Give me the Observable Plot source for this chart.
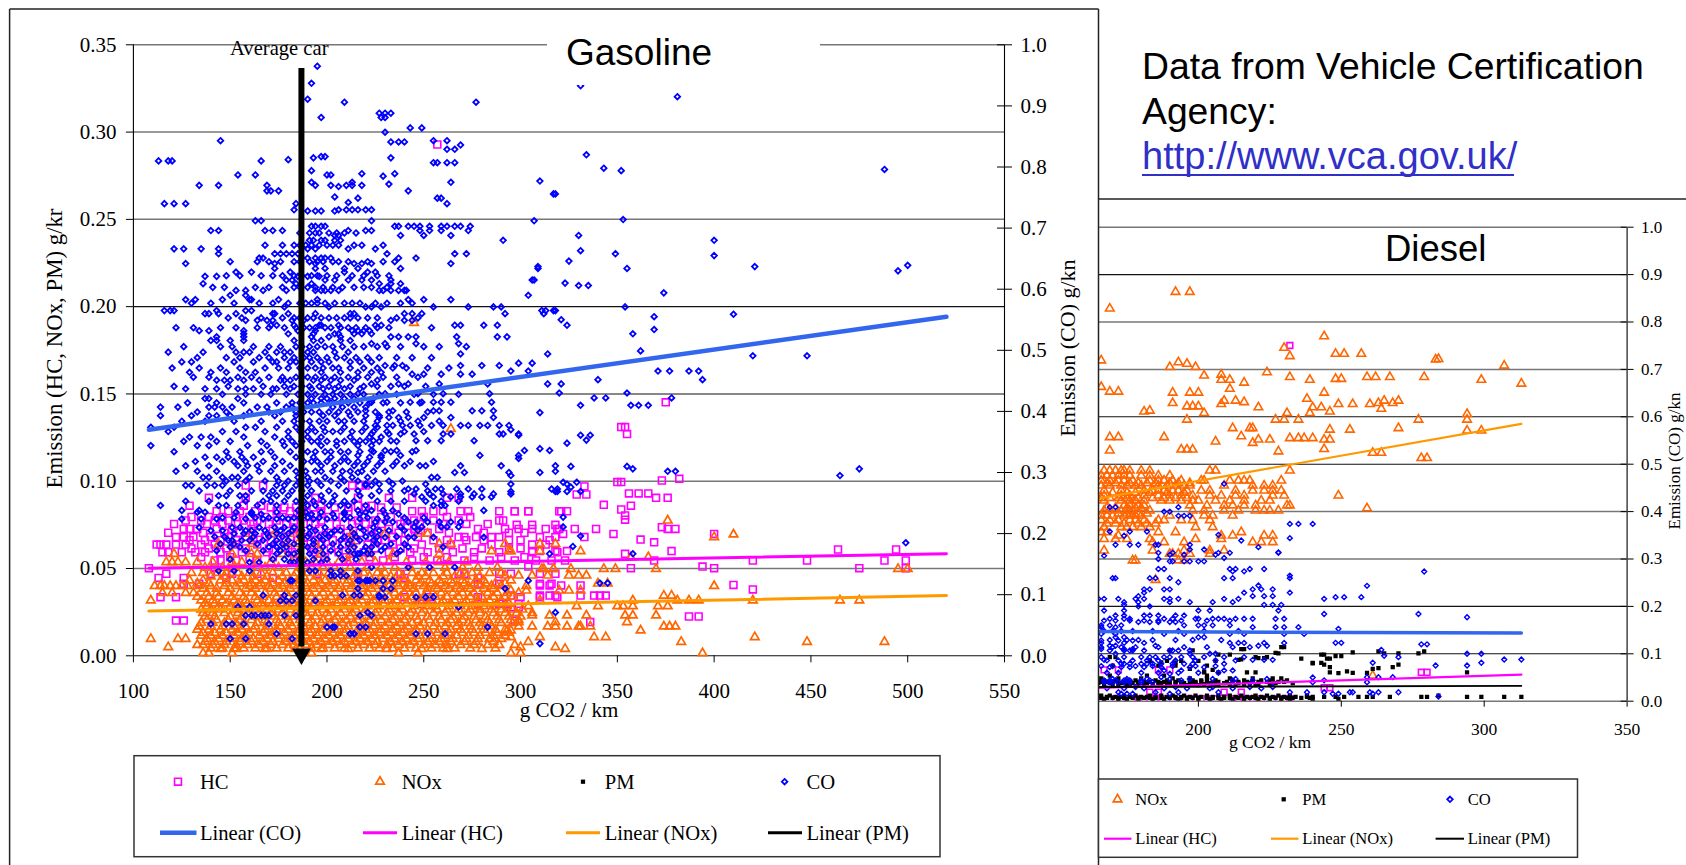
<!DOCTYPE html>
<html><head><meta charset="utf-8">
<script src="https://cdn.jsdelivr.net/npm/d3@7"></script>
<script src="https://cdn.jsdelivr.net/npm/@observablehq/plot@0.6"></script>
<style>html,body{margin:0;padding:0;background:#fff}#page{position:relative;width:1686px;height:865px;overflow:hidden;background:#fff}#page>svg{position:absolute;top:0}</style>
</head><body><div id="page"></div>
<script>
// ---- Gasoline: each row is [level, [g CO2/km ...]]
const gasCO=[[.965,[195]],[.937,[192]],[.933,[331]],[.915,[381]],[.911,[190]],[.906,[209,277]],[.888,[227,230,233]],[.881,[197,228,230]],[.864,[243,249]],[.857,[230]],[.843,[145,255,262]],[.841,[233,237,240]],[.836,[269]],[.829,[262,266]],[.82,[334]],[.817,[197,199]],[.815,[193,233]],[.812,[180]],[.81,[113,118,120,166]],[.807,[255,257,262,266]],[.798,[343]],[.796,[488]],[.794,[192,352]],[.789,[218,235]],[.787,[154,163,200,202]],[.785,[229]],[.777,[310]],[.775,[192,213,264]],[.772,[232]],[.77,[134,144,169,194,202,210,213,218]],[.768,[206]],[.761,[169,171,175,242]],[.756,[317,318]],[.751,[204]],[.749,[216,257,259]],[.742,[211]],[.74,[116,121,127,184,262]],[.73,[183,206,210,213,216,220,223]],[.728,[190,194,197,204]],[.714,[353]],[.712,[166,163,223,307]],[.703,[192,194,197,199,235,237,242,245,248,253,259,262,266,269,274]],[.696,[140,144,168,172,177,211,220,223,248,253,259,273]],[.688,[204,206,238,250,264,330]],[.68,[191,193,197,199,204,207,291,400]],[.666,[121,126,135,144,190,194,211,225]],[.663,[331]],[.658,[144,173,176,179,182,185,231,272,266,349]],[.655,[400]],[.651,[165,167,187,190,194,197,199,202,237,246]],[.646,[325]],[.642,[127,173,194,214,218,223,264]],[.639,[500]],[.637,[309,421]],[.634,[173,194,199,209,216,238,309,355]],[.63,[495]],[.628,[181,161,153,209,221,225]],[.621,[137,143,185,190,196]],[.615,[179,182,199,204,211,218,223,233,306,307]],[.61,[323]],[.609,[136,184,192,227,233,238]],[.606,[330,335]],[.598,[153,158,179,167,194,197,199,202,206,227,229,233,237,240,241]],[.594,[374]],[.59,[150,158,304]],[.583,[127,132,146,160,161,175,195,242,250,264]],[.571,[178,220,223,228,201,255,273,286,290,354]],[.565,[116,119,121,143,158,161,311,313,317,318]],[.559,[410]],[.56,[137,139,144,153,172,173,180,194,212,214,240,244,249,292,312]],[.555,[369]],[.55,[321]],[.549,[158,164,169,172,182,188,244,240,233]],[.541,[171,174,183,196,197,206,225,228,266,269,281,288,324]],[.534,[369]],[.532,[134,139,157,185,194,213,216,219,222]],[.527,[157,180,193,204,206,214,218,223,358]],[.522,[143,157,192,201,207,233,237,242,246,267,288,293]],
[.516,[140,143,150,157,183,193,197,207,212]],[.511,[223,230,246,268]],[.499,[362]],[.497,[118,136,153,157,160,168,174,178,181,190,193,204,211]],[.494,[269,314]],[.491,[420,448]],[.481,[125,130,152,162,172,174,181,184,192,197,201,212,217,223]],[.479,[299,306]],[.475,[230,235,239,269,280,289]],[.466,[295,304,371,377,387,392]],[.464,[129,140,148,158,163,197,207,216,223,228]],[.461,[244,250,259,269,275]],[.452,[340,394]],[.451,[143,147,150,157,165,176,178,181,193,197,202,207,214,226]],[.445,[223,237,242,258,283,314,321]],[.437,[127,137,143,154,158,162,172,174,181,192,198,204,209,217]],[.43,[320,355]],[.429,[216,230,247,260,284]],[.422,[338,344,378]],[.421,[137,139,154,192,197,200,204,209,214,224]],[.415,[223,231,243,249,255,259,264,285]],[.41,[331,357,361,366]],[.407,[114,123,139,142,146,151,164,169,179,182,203,208,214,220]],[.401,[220,234,255,258,275,280,286]],[.398,[310]],[.393,[114,130,139,143,150,157,173,184,198,204,212,220,227]],[.39,[227,232,237,242,250,264,286]],[.377,[225,231,234,239,243,248,254,260,269,273,279,283,289,294]],[.374,[109,121,158,163,174,184,192,198,209,220,226]],[.37,[295]],[.363,[223,232,238,245,260,264,289,291,299]],[.361,[299,331,336]],[.358,[129,135,140,157,173,180,190,197,212,222,228]],[.353,[334]],[.352,[217,224,233,246,252,259,276]],[.348,[324]],[.344,[109,133,139,159,169,178,184,197,205,216,223]],[.339,[310]],[.336,[223,230,236,246,302,315]],[.328,[216,228,238,279,299]],[.325,[137,143,149,156,162,173,184,193,202,209,222,228]],[.323,[299]],[.311,[127,139,154,159,164,173,181,197,204,214,219,226,234,240,248,251,269,290,318]],[.31,[326,355]],[.306,[358,475]],[.302,[318,376,380]],[.3,[216,266,271,294,310]],[.295,[465,295]],[.292,[136,139,146,151,154,160,174,185,190,199,207,213,221,254,257]],[.284,[329,322]],[.281,[220,227,234,251,295,324]],[.279,[127,130,138,142,146,154,174,178,184,190,197,206,220,223]],[.276,[326]],[.273,[242,246,256,259,267,273,280,316,319]],[.269,[295,318,319,324,331]],[.265,[245,253,260,269,276,286,295]],[.262,[144,148,155,158,170,174,180,190,197,204,217,223]],[.26,[249,255,264,269,275,280,285]],[.253,[251,259,268]],[.246,[114,144,148,154,164,174,190,194,201,207,211,220,255,259,261]],[.238,[125,134,185,216,223,229,234,281]],[.235,[133,137,153,161,174,189,197,209,220]],[.232,[161,166,192,203,209,217,230,237]],[.227,[322]],[.224,[125,135,143,158,167,174,180,193,200,209,217,226]],[.219,[225,230,234,242,246,252,258,264,269]],[.211,[322,238,245,249,259,262,268]],[.21,[134,151,155,165,173,178,183,191,199,212,217,224]],[.2,[152,157,163,169,174,180,191,199,202,214,223]],[.196,[331]],[.194,[230,242,245,255,281]],[.189,[149,151,156,160,167,174,180,193,198,207,212,217,224]],[.185,[499]],[.179,[327]],[.178,[150,155,170,174,179,190,198,207,214,220,223,230,242,260]],[.167,[174,180,183,191,198,206,214,217,221,358,315,216,223,236]],[.153,[160,165,181,183,190,197]],[.145,[223,242,253,266]],[.139,[144,152,160,191,194,202,207,216]],[.131,[202,204,207,210]],[.123,[181,182,217,220,222,216,221,225,229,234,304]],[.119,[341,345]],[.11,[216,229,233,292]],[.099,[167,178,184,208,214,217,227]],[.096,[227,230,246,251,255]],[.09,[176,179,182,194]],[.08,[154,160,268]],[.071,[221,318]],[.066,[158,161,163,166,168,170,178,184,217,223]],[.052,[140,148,151,157,170]],[.047,[200,203,204,217,283,220]],[.036,[174,212,214,212,214,246,252,261]],[.028,[150,158,182]],[.02,[310]]];
const gasCOExtra=[[.692,[186,191,194,196,201,205,209,215]],[.672,[168,177,183,186,189,192,196,200,203,206,214,218,229]],[.645,[150,164,170,176,183,186,191,195,198,203,206,211,221,229,235]],[.622,[148,155,166,172,177,183,187,192,195,200,205,213,219,226,232]],[.603,[141,147,163,170,177,183,186,190,194,198,203,208,214,219,223,231]],[.577,[130,140,152,165,172,180,186,189,192,195,199,204,209,213,217,225,231,238,244]],[.553,[149,156,166,177,183,186,190,193,197,201,205,209,212,216,221,226,236,247]],[.537,[122,131,145,153,164,170,178,184,188,191,194,199,202,207,211,215,220,226,232,254]],[.506,[126,145,151,162,170,176,184,187,191,195,199,203,208,214,219,226,231,238,250,258,272]],[.488,[133,148,155,165,170,178,183,188,191,195,200,205,209,215,221,227,236,244,254]],[.471,[120,134,145,155,168,175,180,186,190,194,198,203,206,212,219,226,234,241,252,263]],[.456,[131,139,154,161,170,177,184,187,190,194,199,204,211,216,221,229,236,247]],[.441,[121,149,167,178,183,187,191,196,201,206,212,219,226,233,240,251]],[.428,[146,158,166,171,179,185,190,194,199,203,207,212,219,227,236,245,255,268]],[.414,[128,143,157,174,182,186,190,193,197,202,207,211,217,222,229,238,248]],[.399,[133,148,160,170,176,184,188,192,196,201,206,211,216,225,232,241,252]],[.384,[125,137,152,166,177,183,187,191,196,200,206,209,214,219,226,238,247,258]],[.367,[118,146,153,168,180,186,190,194,199,203,207,213,218,224,231,240,250]],[.351,[126,143,150,166,177,182,187,192,195,200,205,209,214,220,227,236]],[.334,[121,148,155,166,171,181,187,190,194,199,202,207,211,217,224,233,244]],[.318,[132,146,152,158,167,177,188,192,195,200,207,211,216,221,228,236,243,255]],[.302,[122,133,143,157,165,171,178,184,189,194,197,203,208,212,218,224,230]],[.286,[148,158,168,175,180,186,191,195,202,209,216,225,232,239]],[.27,[134,150,161,167,172,177,182,187,192,201,210,216,227,233,240,252]],[.253,[127,139,158,167,171,178,184,188,193,198,203,209,214,226,233,240]],[.226,[146,152,163,170,177,183,186,190,196,204,212,221,231,240,250]],[.205,[140,146,158,161,168,176,182,187,194,204,207,219,227,232,240,247]],[.195,[142,147,162,170,177,186,190,196,201,209,215,220,226,236]],[.183,[145,152,164,172,177,183,187,193,203,211,226,233,240]],[.172,[143,158,167,176,186,194,202,211,219,228,238]],[.158,[150,172,178,186,193,200,208,215]]];
const gasHC=[[.2929,[257]],[.1452,[375]],[.131,[352,354]],[.127,[355]],[.1014,[382]],[.1004,[373]],[.0995,[350,352]],[.0975,[213,217,220,158,167]],[.097,[333]],[.0924,[329,334]],[.093,[356,361,366]],[.0905,[139,158,194,216,232,244,262,268,370,376]],[.0865,[343]],[.086,[129,157,166,189,197,216,223,357]],[.0838,[352]],[.0828,[297,304,321,324,143,149,155,163,174,181,187,197,211,244,249,255,260,269,273,289,297,304,320]],[.0804,[354]],[.078,[354]],[.0775,[127,135,142,149,157,164,174,183,197,216,225,240,245,255,268,289,291]],[.075,[298,306,318]],[.0737,[373]],[.0727,[126,129,133,143,151,161,172,183,196,207,223,232,245,258,278,292,299,306,313,319,320,328,339,376,380]],[.0698,[348,322,400]],[.068,[122,126,131,140,149,158,168,181,190,199,212,223,234,247,268,271,277,285,289,310,318,333]],[.0666,[362]],[.065,[369]],[.0637,[112,114,117,122,127,135,142,153,164,175,188,197,208,221,234,249,264,285,306,313]],[.06,[306,310,318,324,378]],[.0593,[115,118,125,132,137,145,156,169,182,193,206,219,232,243,252,265,276,289,306,319]],[.0584,[354]],[.0546,[142,145,153,164,183,195,212,229,244,257,271,284,297,308,316,323,369,420,448,488,499]],[.0609,[464,494]],[.0511,[304,394]],[.0502,[108,142,151,357,400,475,499]],[.047,[117,140,151,164,195,216,238,268,271,289,295,310,318]],[.0446,[113,126,148,172,240,278]],[.0412,[126,134,278,289,310,316]],[.0406,[410]],[.0403,[310,315,321,331]],[.038,[420]],[.0345,[295,310,315,318,331,338,341,344]],[.0336,[114,122,240,253,278,300,310,319]],[.0298,[249,278,289,293,299]],[.0278,[295,299]],[.0225,[387,392]],[.0202,[122,126,297]],[.0193,[336]]];
const gasHCExtra=[[.085,[171,178,184,193,204,211,220,228,236]],[.0795,[130,139,146,153,160,168,177,186,191,201,208,219,228,233,250,262,274]],[.0755,[121,138,146,154,162,170,179,188,194,205,213,220,228,238,248,260,272,283]],[.0705,[118,136,147,155,165,176,186,192,202,210,217,226,237,242,252,263,281,294,302]],[.0662,[129,137,145,153,162,171,178,185,194,203,215,226,230,240,255,262,272,281,294,300,315]],[.0615,[130,139,148,158,170,180,192,202,213,225,238,245,258,270,280,294,300]],[.0565,[135,150,160,172,186,199,210,222,235,250,262,276,290,302]]];
const gasNOx=[[.1907,[245]],[.13,[264]],[.0775,[376]],[.0699,[160,173,183,213,230,248,252]],[.0695,[410]],[.068,[400]],[.0641,[144,151,161,179,185,194,213,258,264,292,318,310]],[.06,[295,331,285,294,310]],[.0584,[121,151,161,164,177,185,197,212,222,234,258]],[.0565,[357,366]],[.0537,[117,120,123,127,133,141,151,156,164,171,182,189,194,200,206,211,218,225,232,241,251,258,263,272]],[.0498,[343,349,370,311,317,326,495,500,312,317]],[.0475,[130,136,143,148,154,160,166,172,179,184,190,196,201,208,215,219,226,230,237,244,249,255,262,269,275,284,290]],[.046,[292,299,306,314,325,330,334]],[.0432,[129,136,145,151,157,163,168,175,181,186,193,199,204,211,217,223,229,234,240,246,253,258,264,270,277,281,295]],[.0414,[340,345]],[.04,[111,114,116,119,122,125,128,134,140,147,153,160,165,170,177,183,189,195,201,207,213,219,225,232,237,243,250,256,261,267,273,279,285,290,303,400]],[.0374,[295,303,320,325,331]],[.036,[115,120,127,131,138,143,149,155,161,168,173,179,186,191,198,204,209,216,221,228,235,240,246,252,259,265,270,276,283,288,293,299]],[.0345,[374,378]],[.0317,[109,135,141,146,152,158,164,170,176,182,188,194,200,206,212,218,224,230,236,242,248,254,260,266,272,278,284,290,310,358,381,387,392,420,475,465]],[.0284,[138,144,150,156,161,167,173,179,185,190,197,203,209,214,221,227,233,238,245,251,256,263,269,275,281,287,293,304,340,350,353,358,371,376,329]],[.0245,[136,141,147,154,159,165,171,177,184,189,195,200,207,213,219,225,231,237,243,249,255,261,267,273,279,286,292,298,306]],[.0231,[306,315,324,334,354,358,370]],[.0205,[138,143,149,155,161,168,174,180,186,192,198,204,210,216,222,228,234,240,247,253,259,264,270,277,283,289,295,299]],[.0193,[299,318,355]],[.0168,[134,140,146,152,158,163,170,176,182,188,194,200,206,211,218,224,230,236,242,248,255,261,267,274,280,285,299,306,314,318,324,330,331,336,374,377,380]],[.0145,[293,362,295]],[.0132,[136,142,148,154,160,167,173,178,185,191,196,203,209,215,221,227,233,239,245,251,257,263,270,276,282,288,294]],[.0107,[295,310,338,344,421]],[.0097,[109,123,127,138,144,150,156,162,169,175,181,187,193,199,205,211,217,223,229,235,241,247,253,259,265,272,278,284,290]],[.008,[304,383,448,488]],[.0062,[133,136,141,147,153,159,165,171,177,183,189,195,201,207,213,219,225,231,237,243,250,256,262,269,276,283,289,297]],[.005,[118,300,318]],[.004,[323,145,153,168,184,197,211,231,249,262,280]],[.0015,[136,139,151,192,237,247,295,300,394]]];
const gasNOxExtra=[[.0505,[137,146,152,161,168,175,186,192,198,204,212,221,228,235,243,253,261,270,278,288]],[.0455,[140,147,156,162,169,177,183,188,195,202,209,214,222,228,233,239,247,251,260,266,272,279]],[.0415,[133,139,148,155,161,166,172,178,184,190,197,203,210,215,221,227,236,242,248,254,259,265,271,276,282,287,292]],[.0385,[136,143,150,158,163,171,175,181,187,193,199,206,212,218,223,230,234,241,245,252,257,263,269,274,281,286]],[.0338,[133,139,144,151,157,163,167,174,180,185,192,196,202,208,214,220,226,232,238,244,250,256,262,268,274,280,286,292,296]],[.03,[137,142,148,154,159,166,172,177,183,189,193,199,205,211,216,223,229,234,241,247,252,259,264,271,277,282,288,294]],[.0265,[135,140,145,152,157,163,169,175,181,187,192,198,202,209,215,220,226,232,239,244,250,257,262,268,274,279,285,290,296,301]],[.0225,[137,142,150,156,162,167,173,179,183,190,194,201,205,212,217,224,230,235,241,246,252,258,265,271,276,282,288,294,300]],[.0188,[135,141,147,153,157,164,169,175,181,187,191,197,202,208,214,220,225,232,238,244,250,256,262,268,273,279,284,290,296]],[.015,[133,139,145,151,156,162,168,174,180,186,192,198,204,210,216,222,228,234,240,246,252,258,264,269,275,281,287,292]],[.0115,[135,140,146,152,158,165,171,176,183,189,195,201,207,213,219,225,231,237,243,248,254,261,267,273,279,286,292]],[.0081,[137,142,148,155,161,167,172,179,185,191,197,203,209,215,221,226,233,239,245,252,258,264,271,277,286]],[.0042,[140,146,152,157,163,169,174,180,186,192,198,204,209,216,222,227,234,240,246,254,260,266,274,287]]];
const gasTrendX=[108,520],gasCOTrend=[.37,.555],gasHCTrend=[.0502,.0585],gasNOxTrend=[.0256,.0345];
const gasLeftTicks=[0,.05,.1,.15,.2,.25,.3,.35],gasGridGrey=[.35,.3,.25,.1,.05],gasGridDark=[.2,.15,0];
const gasRightTicks=[0,.1,.2,.3,.4,.5,.6,.7,.8,.9,1],gasXTicks=[100,150,200,250,300,350,400,450,500,550];
const avgCar=[186.8];
// ---- Diesel (read on the CO axis)
const dieNOx=[[.8636,[192,197]],[.8285,[169]],[.77,[244]],[.7455,[230]],[.733,[248,251,257]],[.728,[232]],[.722,[284]],[.721,[283]],[.719,[166]],[.715,[193]],[.712,[196]],[.708,[307]],[.705,[190,199]],[.694,[224]],[.689,[208]],[.687,[202]],[.684,[232,259,262,267,279]],[.68,[248,250]],[.678,[208,211,239,299]],[.672,[216]],[.67,[313]],[.663,[166]],[.659,[211]],[.653,[169,172]],[.651,[191,197,200,244]],[.638,[238]],[.634,[209,213,265,270]],[.631,[216]],[.629,[191,263,268]],[.627,[208,249,254,260]],[.622,[196,198,200]],[.62,[221,240,243]],[.617,[264]],[.613,[183]],[.611,[181,246]],[.608,[202,231,239]],[.606,[294]],[.594,[196,227,230,235,277,294]],[.576,[212,218,219,270]],[.573,[246,253]],[.571,[294,299]],[.559,[215]],[.557,[169,172,188]],[.555,[232,235,237,240]],[.552,[221,225,244,246]],[.548,[206]],[.545,[219]],[.532,[244]],[.531,[194,196,198]],[.529,[169]],[.527,[228]],[.524,[261,264]],[.513,[278,280]],[.4867,[167,169,171,173,174,176,180,183,204,206,232]],[.476,[166,168,170,172,174,176,180,183,186,190]],[.4656,[166,169,172,174,177,183,186,188,191,194,201,202,211,214,216,218,229]],[.455,[166,169,173,175,178,180,186,189,192,195,197,209,219,223,226]],[.4445,[167,173,181,184,186,188,191,193,196,201,204,213,219,223,226,229]],[.434,[167,173,176,181,186,190,194,198,204,208,213,216,226,230,249]],[.4234,[167,173,176,178,181,187,190,194,198,200,206,211,216,222,225]],[.413,[174,176,179,181,197,203,209,212,216,220,231,232]],[.407,[259]],[.4023,[167,169,173,176,177,183,198,202,209,214,220,223,225,228]],[.3918,[166,168,170,174,176,178,180,190,202,205,212]],[.382,[166,169,172,176,178,181,186,188,194,198,204]],[.3672,[167,173,175,177,180,183,199,205]],[.3566,[166,168,186,192,215]],[.3496,[172,208,212,223,226]],[.342,[167,171,175,183,199,208]],[.3355,[184,188,195,219,222,226]],[.318,[167,184,204,209,195]],[.311,[190,191,193,197,204]],[.297,[177,178,193,195]],[.256,[185]],[.054,[261]]];
const dieNOxExtra=[[.46,[168,171,176,179,182,185,190,193,197]],[.44,[170,175,178,183,189,195]],[.429,[166,169,172,175,179,184,188,192,196]],[.408,[168,171,175,178,180]],[.396,[172,175,179,182]],[.375,[168,171,174,179,182,185]]];
const dieCO=[[.4586,[209]],[.4094,[169,171,193]],[.4,[188,190]],[.391,[193,195,197]],[.374,[232,235,240]],[.358,[169,176,182]],[.351,[207]],[.349,[174]],[.344,[232]],[.339,[215]],[.33,[171,176,185,186,197,179]],[.325,[221]],[.32,[197,202]],[.314,[228]],[.313,[186,191,207,211,228]],[.309,[190,195,206]],[.307,[167]],[.302,[209]],[.3,[186]],[.295,[190,191,195,197,200,202]],[.279,[186,188,211,213,218,223]],[.2736,[279]],[.274,[212,216]],[.265,[232]],[.2596,[170,171,183,185,190,209,212,232]],[.251,[193]],[.2434,[259]],[.244,[221]],[.236,[181,183,188,190,219,222,226]],[.229,[181,216,232]],[.2216,[179,219,223,226]],[.2195,[248,251,257]],[.216,[165,167,172,178,181,188,190,193,209,214,244]],[.209,[174,179,190,197,205,212]],[.2033,[174,223,226,229]],[.2,[179,183]],[.1914,[167,174,200,204,228]],[.184,[277,244]],[.181,[171,174,181,183,186,192,195]],[.177,[294]],[.174,[169,174,176,188,191,199,200,205,207,209,213,216,219,227,230]],[.167,[179,183,186,190,192]],[.16,[166,169,173,195,200,202,205,211]],[.1562,[166,171,219,227,230,235]],[.1527,[249]],[.142,[166,171,188,195,211,216,230,237]],[.135,[171,174,200,202]],[.1281,[166,172,177]],[.1231,[248,250]],[.123,[166,174,181,211,214,216,223,230]],[.12,[278,280]],[.117,[169,171,185,221,224]],[.11,[166,174,177]],[.1084,[264]],[.107,[169,174,176,177,181,190,191,193,197]],[.1,[171,197,204,206,294,299]],[.096,[265]],[.093,[166,174,180,183,185,188,190,194,198,202,209,216]],[.0929,[270]],[.088,[307,313]],[.0873,[167,219,223,226]],[.081,[261,299]],[.079,[173,174,176,180,182,184,187,191,195,198,209]],[.0753,[283,294]],[.0718,[169,173,176,181,187,197,202]],[.065,[188,194,209,212]],[.0578,[190]],[.0507,[187,259,263,268]],[.05,[240]],[.044,[167,169,171,174,176,180,183,194,212,219,244]],[.04,[167,169,170,172,174,176,180,184,240,259]],[.03,[178,192,205,218,226]],[.019,[172,185,193,207,232,238,244,253,254,260,263,270]],[.0156,[173,175,177,190,247,249,261]],[.0099,[284]]];
const dieCOExtra=[[.17,[167,171,176,181,186,194,203,211]],[.148,[167,170,173,177,184,193,202,214]],[.129,[169,175,179,184,192,198,208]],[.114,[166,170,173,178,186,195,203,212,218]],[.086,[168,172,177,182,186,192,199,206,213]],[.074,[166,170,178,184,191,199,206]],[.06,[168,172,180,186,193,200,207]],[.047,[170,175,182,190,197,205,213,224]],[.027,[168,174,181,188,196,204,212,222]]];
const diePM=[[.114,[229,230]],[.11,[215,216]],[.107,[190,198]],[.105,[263,279]],[.103,[254]],[.102,[227]],[.101,[265,270,277,228]],[.098,[207,211,243,244]],[.095,[248,250]],[.093,[169,171,220,224]],[.091,[221,223]],[.09,[236,245,246]],[.088,[215]],[.087,[214]],[.082,[187,192]],[.081,[240,243]],[.08,[240]],[.077,[244,270]],[.072,[246,268]],[.07,[263]],[.068,[197,261]],[.066,[205]],[.063,[202,252]],[.061,[202,207,246,294,217,220]],[.06,[254,259]],[.059,[249]],[.048,[166,172,180,191,197,203,211,219,226,229]],[.044,[167,171,175,178,185,189,193,198,201,206,212,216,222,225,231]],[.038,[165,169,173,177,182,187,192,195,199,204,209,214,218,227,233]],[.034,[170,176,181,186,190,196,200,207,213,220]],[.012,[166,169,174,178,183,187,191,195,199,203,207,211,215,220,224,228,232,238,284]],[.009,[165,168,171,173,176,180,182,185,189,192,194,197,201,205,209,213,217,219,222,226,230,234,238,240,244,248,251,256,259,261,267,278,280,294,299,307,313]],[.005,[167,172,175,179,184,188,193,196,200,204,208,212,216,221,225,229,232,240,249]]];
const diePMExtra=[[.085,[183,189,194,200,206]],[.075,[170,186,192,203]],[.054,[169,182,188,203]],[.041,[166,168,170,172,174,176,179,181,183,186,188,190,192,194,197,199,201,203,205,207,210,212,214,217,219,221,224,226,228,230]],[.036,[167,172,175,179,184,189,194,198,202,206,211,216,221,225]],[.007,[166,168,170,172,174,177,179,181,183,185,187,190,192,194,196,198,200,203,205,207,209,211,214,216,218,220,223,225,227,229,231,233,236,239]]];
const dieHC=[[.7504,[232]],[.066,[167,172,186,190]],[.061,[278,280]],[.0285,[244,246]],[.019,[183,186,209,215]],[.005,[171,173,179,183,185,187,191,195,199,203,206,212,214,217,219,222,228,232]]];
const dieTrendX=[165.4,313],dieCOTrend=[.147,.1437],dieHCTrend=[.028,.056],dieNOxTrend=[.428,.585],diePMTrend=[.03,.0325];
const dieYTicks=[0,.1,.2,.3,.4,.5,.6,.7,.8,.9,1],dieGridGrey=[1,.8,.7,.4,.3,0],dieGridDark=[.9,.6,.5,.2,.1],dieXTicks=[200,250,300,350];

const colors={HC:"#ff00ff",NOx:"#ff6600",PM:"#000",CO:"#0000ff",lCO:"#3366ee",lHC:"#ff00ff",lNOx:"#ff9900",lPM:"#000"};
const serif="'Liberation Serif',serif",sans="'Liberation Sans',sans-serif",coK=.35;
const pts=r=>r.flatMap(([y,xs])=>xs.map(x=>({x,y})));
const line=(xs,ys)=>xs.map((x,i)=>({x,y:ys[i]}));
const mHC={symbol:"square2",r:4.4,stroke:colors.HC,strokeWidth:1.6,fill:"none"};
const mNOx={symbol:"triangle2",r:4.1,stroke:colors.NOx,strokeWidth:1.7,fill:"none"};
const mCO={symbol:"diamond2",r:2.5,stroke:colors.CO,strokeWidth:1.8,fill:"none"};
const page=document.getElementById("page");

const gas=Plot.plot({width:1098,height:865,marginLeft:132.9,marginRight:94,marginTop:44.3,marginBottom:209.7,
 style:{background:"transparent",fontFamily:serif,fontSize:"21px",color:"#000"},
 x:{domain:[100,550],label:null},y:{domain:[0,.35],label:null},
 marks:[
  Plot.ruleY(gasGridGrey,{stroke:"#777",strokeWidth:1.5}),
  Plot.ruleY(gasGridDark,{stroke:"#111",strokeWidth:1.1}),
  Plot.ruleX([100,550],{stroke:"#000",strokeWidth:1.1}),
  Plot.ruleY(gasRightTicks.map(d=>d*coK),{x1:546.4,x2:550,stroke:"#000"}),
  Plot.axisY(gasLeftTicks,{anchor:"left",tickSize:7,tickPadding:10,tickFormat:d3.format(".2f"),label:null,fontSize:21}),
  Plot.axisY(gasRightTicks.map(d=>d*coK),{anchor:"right",tickSize:7,tickPadding:9,tickFormat:d=>(d/coK).toFixed(1),label:null,fontSize:21}),
  Plot.axisX(gasXTicks,{tickSize:7,tickPadding:20,tickFormat:d3.format("d"),label:null,fontSize:21}),
  Plot.dot(pts(gasHC.concat(gasHCExtra)),{x:"x",y:"y",...mHC}),
  Plot.dot(pts(gasNOx.concat(gasNOxExtra)),{x:"x",y:"y",...mNOx}),
  Plot.dot(pts(gasCO.concat(gasCOExtra)),{x:"x",y:d=>d.y*coK,...mCO}),
  Plot.line(line(gasTrendX,gasHCTrend),{x:"x",y:"y",stroke:colors.lHC,strokeWidth:3}),
  Plot.line(line(gasTrendX,gasNOxTrend),{x:"x",y:"y",stroke:colors.lNOx,strokeWidth:3}),
  Plot.line(line(gasTrendX,gasCOTrend),{x:"x",y:d=>d.y*coK,stroke:colors.lCO,strokeWidth:4.5}),
  Plot.ruleX(avgCar,{y1:.3364,y2:.005,stroke:"#000",strokeWidth:6}),
  Plot.dot(avgCar,{x:d=>d,y:()=>.001,symbol:"triangle",r:7,rotate:180,fill:"#000"})
 ]});
gas.style.left="0px";page.appendChild(gas);

const die=Plot.plot({width:587,height:865,marginLeft:0,marginRight:59.4,marginTop:226.7,marginBottom:164.3,
 style:{background:"transparent",fontFamily:serif,fontSize:"17px",color:"#000"},
 x:{domain:[165.4,350],label:null},y:{domain:[0,1],label:null},
 marks:[
  Plot.ruleY(dieGridGrey,{stroke:"#777",strokeWidth:1.5}),
  Plot.ruleY(dieGridDark,{stroke:"#111",strokeWidth:1.1}),
  Plot.ruleX([350],{stroke:"#000",strokeWidth:1.1}),
  Plot.ruleY(dieYTicks,{x1:347.9,x2:350,stroke:"#000"}),
  Plot.axisY(dieYTicks,{anchor:"right",tickSize:6,tickPadding:8,tickFormat:d3.format(".1f"),label:null,fontSize:17}),
  Plot.axisX(dieXTicks,{tickSize:6,tickPadding:15,tickFormat:d3.format("d"),label:null,fontSize:17.5}),
  Plot.dot(pts(dieHC),{x:"x",y:"y",...mHC,r:3.7,clip:true}),
  Plot.dot(pts(dieNOx.concat(dieNOxExtra)),{x:"x",y:"y",...mNOx,strokeWidth:1.6,clip:true}),
  Plot.dot(pts(diePM.concat(diePMExtra)),{x:"x",y:"y",symbol:"square",r:2.4,fill:"#000",clip:true}),
  Plot.dot(pts(dieCO.concat(dieCOExtra)),{x:"x",y:"y",...mCO,r:2.2,strokeWidth:1.4,clip:true}),
  Plot.line(line(dieTrendX,dieHCTrend),{x:"x",y:"y",stroke:colors.lHC,strokeWidth:2.2}),
  Plot.line(line(dieTrendX,dieNOxTrend),{x:"x",y:"y",stroke:colors.lNOx,strokeWidth:2.2}),
  Plot.line(line(dieTrendX,diePMTrend),{x:"x",y:"y",stroke:colors.lPM,strokeWidth:1.8}),
  Plot.line(line(dieTrendX,dieCOTrend),{x:"x",y:"y",stroke:colors.lCO,strokeWidth:3.5})
 ]});
die.style.left="1099px";page.appendChild(die);

// ---- Frames, titles, legends: overlay
const ov=d3.select(page).append("svg").attr("width",1686).attr("height",865).style("left","0px").style("pointer-events","none");
const lineEl=(x1,y1,x2,y2,c="#222",w=1.5)=>ov.append("line").attr("x1",x1).attr("y1",y1).attr("x2",x2).attr("y2",y2).attr("stroke",c).attr("stroke-width",w);
const txt=(s,x,y,o={})=>ov.append("text").text(s).attr("x",x).attr("y",y).attr("font-family",o.f||serif).attr("font-size",o.s||21).attr("fill",o.c||"#000").attr("text-anchor",o.a||"start").attr("transform",o.r?`rotate(-90 ${x} ${y})`:null);
lineEl(9.6,9,1098.5,9);lineEl(9.6,9,9.6,865);lineEl(1098.5,9,1098.5,865);lineEl(1098.5,199,1686,199);
ov.append("rect").attr("x",547).attr("y",38).attr("width",273).attr("height",47).attr("fill","#fff");
txt("Gasoline",566,65,{f:sans,s:37});
txt("Diesel",1385,261,{f:sans,s:36.5});
txt("Average car",230,55,{s:20.6});
txt("g CO2 / km",569,717,{a:"middle"});
txt("g CO2 / km",1270,748,{a:"middle",s:17.5});
txt("Emission (HC, NOx, PM) g/kr",62,348.5,{a:"middle",r:1,s:22.8});
txt("Emission (CO) g/kn",1075,348,{a:"middle",r:1,s:22});
txt("Emission (CO) g/kn",1680,461,{a:"middle",r:1,s:17});
txt("Data from Vehicle Certification",1142,79,{f:sans,s:37.3});
txt("Agency:",1142,124,{f:sans,s:37.3});
txt("http://www.vca.gov.uk/",1142,169,{f:sans,s:38,c:"#3030c8"});
lineEl(1142,175,1514,175,"#3030c8",2.2);
const sym=(name,r)=>d3.symbol(d3[{square2:"symbolSquare2",triangle2:"symbolTriangle2",diamond2:"symbolDiamond2",square:"symbolSquare"}[name]],Math.PI*r*r)();
const swatch=(k,x,y)=>{const m={HC:mHC,NOx:mNOx,CO:mCO}[k];
 const p=ov.append("path").attr("transform",`translate(${x},${y})`);
 if(m)p.attr("d",sym(m.symbol,m.r)).attr("fill","none").attr("stroke",m.stroke).attr("stroke-width",m.strokeWidth);
 else p.attr("d",sym("square",2.4)).attr("fill","#000");};
function legend(box,rows,s,dy){
 ov.append("rect").attr("x",box[0]).attr("y",box[1]).attr("width",box[2]-box[0]).attr("height",box[3]-box[1]).attr("fill","#fff").attr("stroke","#333").attr("stroke-width",1.5);
 rows.forEach(d=>{
  if(d.sym){swatch(d.sym,d.x,d.y);}
  else{lineEl(d.x1,d.y,d.x2,d.y,colors[d.c],d.w);}
  txt(d.t,d.tx,d.y+dy,{s});
 });
}
legend([134,755.7,940,856.7],[
 {sym:"HC",x:178,y:781.7,t:"HC",tx:200},{sym:"NOx",x:380,y:781.7,t:"NOx",tx:401.7},{sym:"PM",x:583,y:781.7,t:"PM",tx:604.7},{sym:"CO",x:784.6,y:781.7,t:"CO",tx:806.5},
 {c:"lCO",x1:160,x2:196.5,y:832.7,w:4.5,t:"Linear (CO)",tx:200},{c:"lHC",x1:363,x2:397,y:832.7,w:3,t:"Linear (HC)",tx:401.7},{c:"lNOx",x1:566,x2:600,y:832.7,w:3,t:"Linear (NOx)",tx:604.7},{c:"lPM",x1:768,x2:802,y:832.7,w:3,t:"Linear (PM)",tx:806.5}
],20.6,7);
legend([1098.5,779,1577.5,857.3],[
 {sym:"NOx",x:1117.5,y:799.3,t:"NOx",tx:1135.3},{sym:"PM",x:1283.7,y:799.3,t:"PM",tx:1302.3},{sym:"CO",x:1450,y:799.3,t:"CO",tx:1467.7},
 {c:"lHC",x1:1104,x2:1131.4,y:838.7,w:2.2,t:"Linear (HC)",tx:1135.3},{c:"lNOx",x1:1271,x2:1298.4,y:838.7,w:2.2,t:"Linear (NOx)",tx:1302.3},{c:"lPM",x1:1435.6,x2:1464,y:838.7,w:2,t:"Linear (PM)",tx:1467.7}
],16.6,5.5);
</script></body></html>
